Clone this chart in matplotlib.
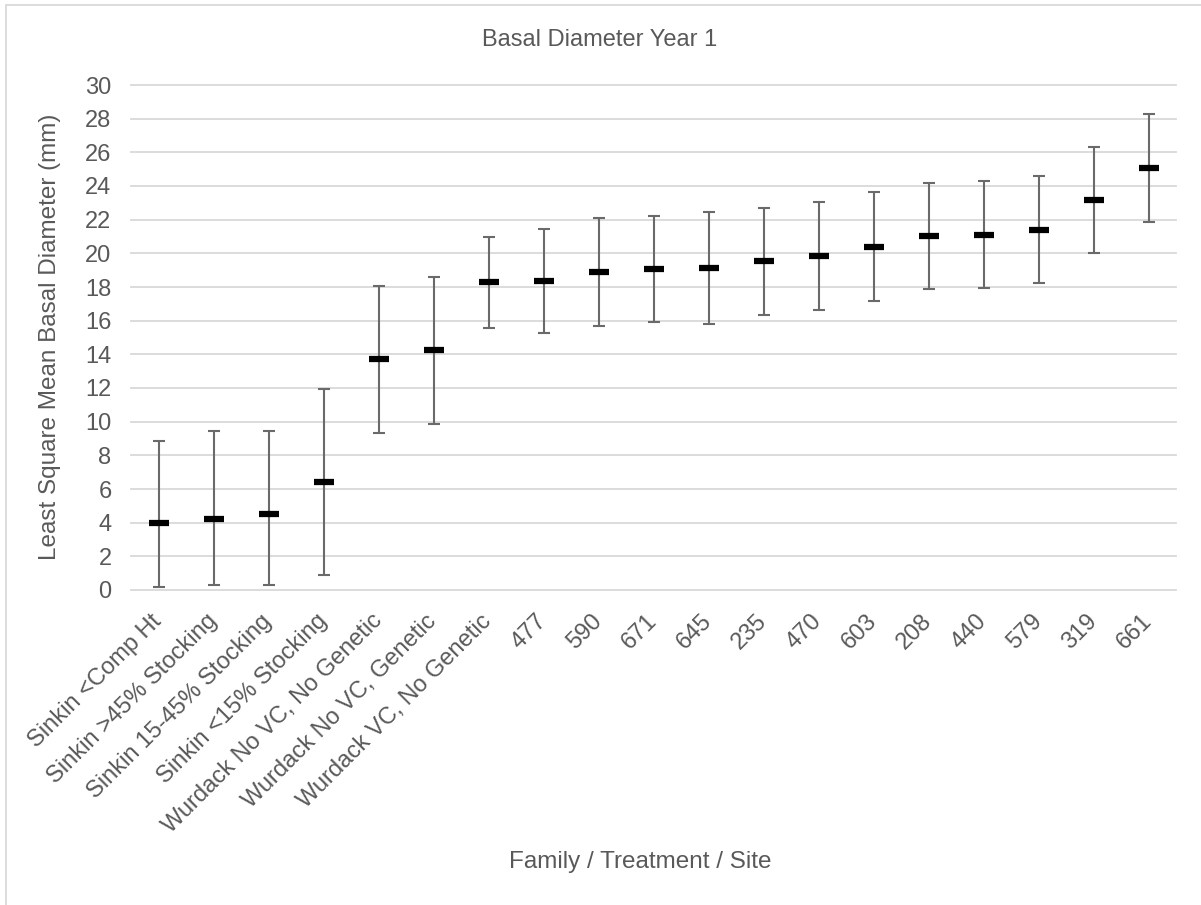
import matplotlib
matplotlib.use("Agg")
import matplotlib.pyplot as plt
from matplotlib.patches import Rectangle

categories = ["Sinkin <Comp Ht", "Sinkin >45% Stocking", "Sinkin 15-45% Stocking",
              "Sinkin <15% Stocking", "Wurdack No VC, No Genetic", "Wurdack No VC, Genetic",
              "Wurdack VC, No Genetic", "477", "590", "671", "645", "235", "470", "603",
              "208", "440", "579", "319", "661"]
means = [3.97, 4.20, 4.51, 6.43, 13.70, 14.23, 18.31, 18.37, 18.92, 19.09, 19.15,
         19.52, 19.84, 20.40, 21.01, 21.11, 21.40, 23.18, 25.07]
upper = [8.83, 9.42, 9.46, 11.96, 18.08, 18.60, 20.99, 21.44, 22.10, 22.24, 22.47,
         22.69, 23.04, 23.65, 24.15, 24.27, 24.60, 26.32, 28.28]
lower = [0.16, 0.29, 0.29, 0.90, 9.32, 9.89, 15.58, 15.24, 15.69, 15.91, 15.83,
         16.34, 16.63, 17.14, 17.88, 17.94, 18.21, 20.01, 21.87]
yticks = list(range(0, 31, 2))

plt.rcParams['font.family'] = ['Liberation Sans', 'DejaVu Sans']
txt = '#595959'
fs = 17

W, H = 1201, 905
fig = plt.figure(figsize=(W / 100, H / 100), dpi=100)
ax = fig.add_axes([131 / W, 1 - 590 / H, (1176 - 131) / W, (590 - 85) / H])

x = list(range(len(categories)))
yerr = [[m - l for m, l in zip(means, lower)], [u - m for m, u in zip(means, upper)]]
ax.errorbar(x, means, yerr=yerr, fmt='none', ecolor='#6a6a6a', elinewidth=1.5,
            capsize=4, capthick=1.5, zorder=3)
ax.plot(x, means, linestyle='none', marker='_', markersize=15, markeredgewidth=4.5,
        color='black', zorder=4)

ax.set_xlim(-0.5, len(categories) - 0.5)
ax.set_ylim(0, 30)
ax.set_yticks(yticks)
for v in yticks:
    ax.axhline(v, color='#d9d9d9', linewidth=1.3, zorder=1, clip_on=False)
for s in ax.spines.values():
    s.set_visible(False)
ax.tick_params(axis='both', length=0, colors=txt, labelsize=fs)
ax.tick_params(axis='y', pad=14)
ax.set_xticks(x)
ax.set_xticklabels(categories, rotation=45, ha='right', va='center', rotation_mode='anchor')
ax.tick_params(axis='x', pad=20)

fig.text(600 / W, 1 - 40 / H, "Basal Diameter Year 1", ha='center', va='center',
         fontsize=fs, color=txt)
fig.text(50 / W, 1 - 337 / H, "Least Square Mean Basal Diameter (mm)", rotation=90,
         ha='center', va='center', fontsize=17.5, color=txt)
fig.text(640 / W, 1 - 862 / H, "Family / Treatment / Site", ha='center', va='center',
         fontsize=17.5, color=txt)

fig.patches.append(Rectangle((5.5 / W, -0.1), 1.2, 1 - 5.5 / H + 0.1, transform=fig.transFigure,
                             fill=False, edgecolor='#d9d9d9', linewidth=1.3))

fig.savefig("out.png", dpi=100)
